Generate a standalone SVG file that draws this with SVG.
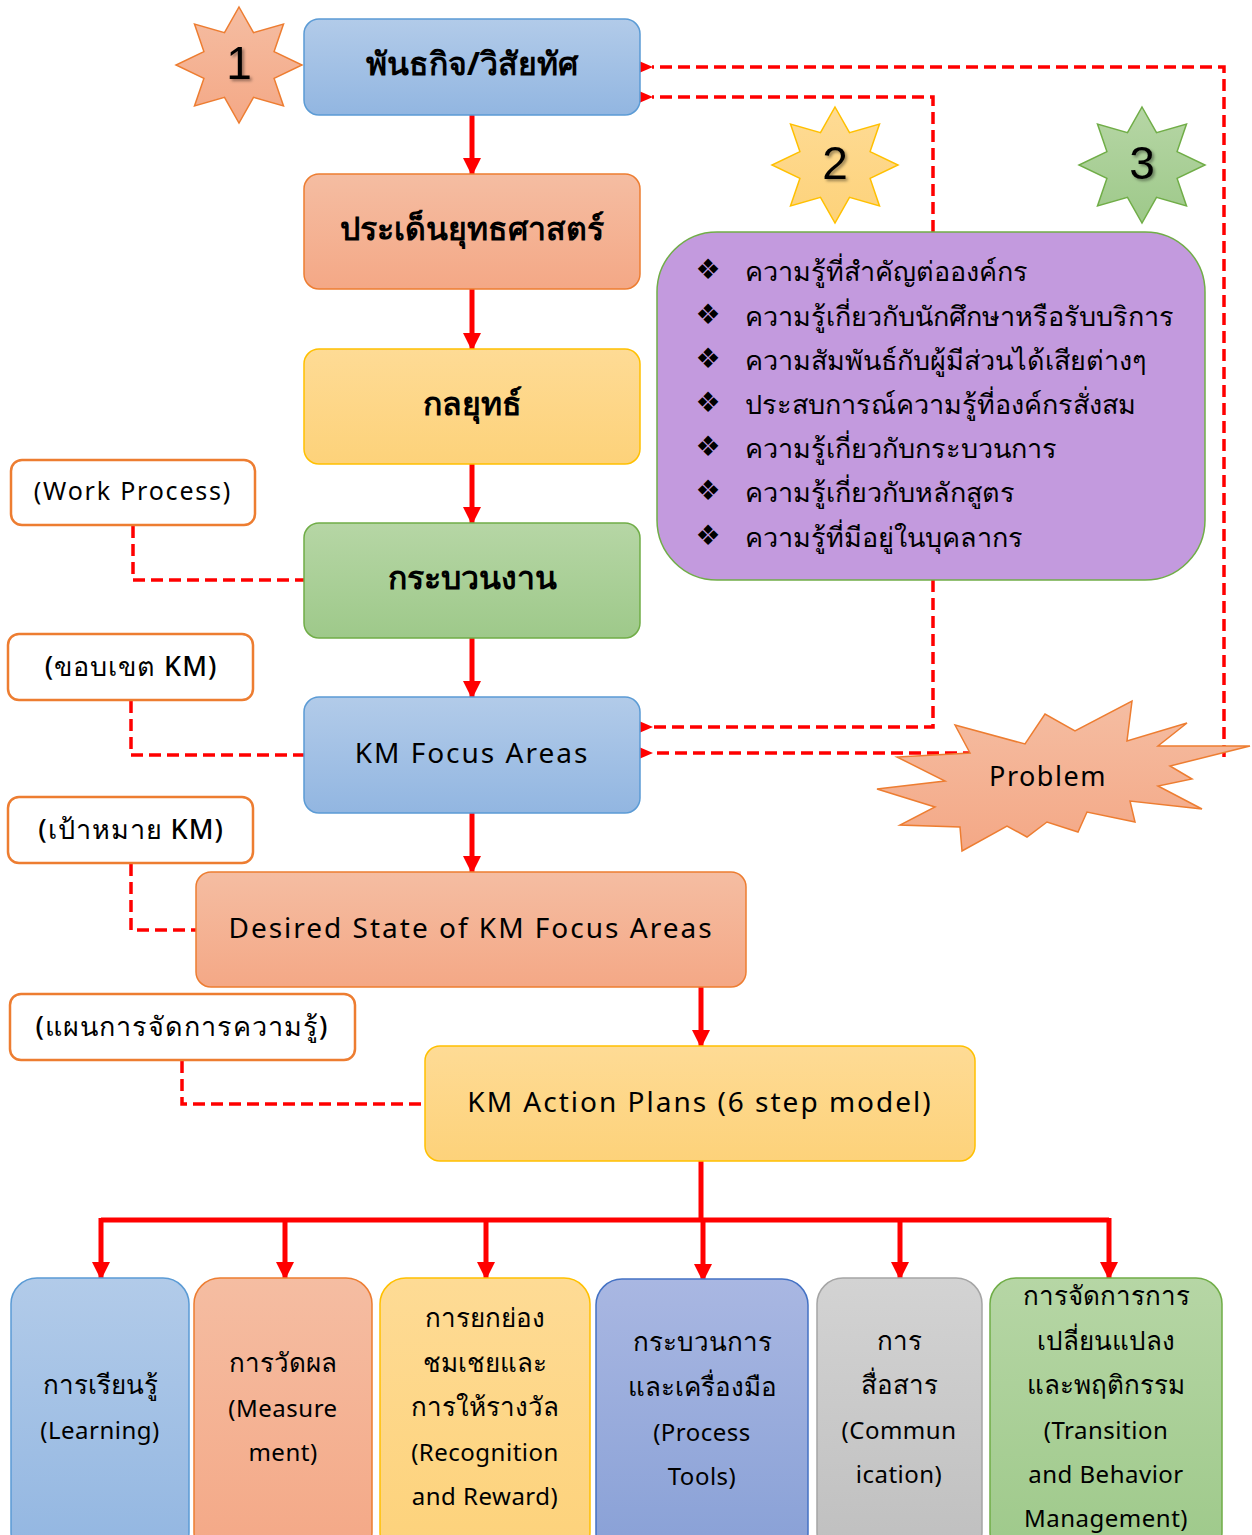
<svg xmlns="http://www.w3.org/2000/svg" width="1252" height="1535" viewBox="0 0 1252 1535">
<style>
text{font-family:"Noto Sans","DejaVu Sans",sans-serif;fill:#000;text-anchor:middle}
.h{font-size:32px;font-weight:bold}
.e{font-size:28px;letter-spacing:2px}
.s{font-size:25px;letter-spacing:1.8px}
.st{font-size:27px;letter-spacing:1px;font-weight:500}
.b{font-size:24px;letter-spacing:0.5px}
.bt{font-size:26px;font-weight:500}
.p{font-size:27px;text-anchor:start;font-weight:500}
.blt{font-size:28px;text-anchor:middle}
.num{font-family:"Liberation Sans",Arial,sans-serif;font-size:46px}
.lab{fill:#fff;stroke:#ed7d31;stroke-width:2.5}
.solid{stroke:#ff0000;stroke-width:5;fill:none}
.dash{stroke:#ff0000;stroke-width:3.5;fill:none;stroke-dasharray:12 6}
</style>
<defs>
<linearGradient id="gBlue" x1="0" y1="0" x2="0" y2="1"><stop offset="0" stop-color="#b2cbe9"/><stop offset="1" stop-color="#92b6e1"/></linearGradient>
<linearGradient id="gOrange" x1="0" y1="0" x2="0" y2="1"><stop offset="0" stop-color="#f5bda2"/><stop offset="1" stop-color="#f4a886"/></linearGradient>
<linearGradient id="gYellow" x1="0" y1="0" x2="0" y2="1"><stop offset="0" stop-color="#fedb95"/><stop offset="1" stop-color="#fdd27a"/></linearGradient>
<linearGradient id="gGreen" x1="0" y1="0" x2="0" y2="1"><stop offset="0" stop-color="#b6d6a5"/><stop offset="1" stop-color="#9ec98a"/></linearGradient>
<linearGradient id="gIndigo" x1="0" y1="0" x2="0" y2="1"><stop offset="0" stop-color="#a9b7e2"/><stop offset="1" stop-color="#88a0d6"/></linearGradient>
<linearGradient id="gGray" x1="0" y1="0" x2="0" y2="1"><stop offset="0" stop-color="#d3d3d3"/><stop offset="1" stop-color="#bfbfbf"/></linearGradient>
<polygon id="star" points="0,-58 14.5,-32.3 44.5,-41 35.1,-13.4 63,0 35.1,13.4 44.5,41 14.5,32.3 0,58 -14.5,32.3 -44.5,41 -35.1,13.4 -63,0 -35.1,-13.4 -44.5,-41 -14.5,-32.3"/>
<marker id="ah" markerUnits="userSpaceOnUse" markerWidth="18" markerHeight="18" viewBox="0 0 18 18" refX="16" refY="9" orient="auto"><path d="M0,0 L18,9 L0,18 z" fill="#ff0000"/></marker>
<marker id="ad" markerUnits="userSpaceOnUse" markerWidth="14" markerHeight="12" viewBox="0 0 14 12" refX="1" refY="6" orient="auto"><path d="M14,0 L0,6 L14,12 z" fill="#ff0000"/></marker>
<filter id="sh" x="-20%" y="-20%" width="140%" height="140%"><feDropShadow dx="2" dy="2" stdDeviation="1.5" flood-color="#000" flood-opacity="0.4"/></filter>
</defs>

<g id="connectors">
<line class="solid" x1="472" y1="115" x2="472" y2="174" marker-end="url(#ah)"/>
<line class="solid" x1="472" y1="289" x2="472" y2="349" marker-end="url(#ah)"/>
<line class="solid" x1="472" y1="464" x2="472" y2="523" marker-end="url(#ah)"/>
<line class="solid" x1="472" y1="638" x2="472" y2="697" marker-end="url(#ah)"/>
<line class="solid" x1="472" y1="813" x2="472" y2="872" marker-end="url(#ah)"/>
<line class="solid" x1="701" y1="987" x2="701" y2="1046" marker-end="url(#ah)"/>
<line class="solid" x1="701" y1="1161" x2="701" y2="1220"/>
<line class="solid" x1="101" y1="1220" x2="1109" y2="1220"/>
<line class="solid" x1="101" y1="1218" x2="101" y2="1278" marker-end="url(#ah)"/>
<line class="solid" x1="285" y1="1218" x2="285" y2="1278" marker-end="url(#ah)"/>
<line class="solid" x1="486" y1="1218" x2="486" y2="1278" marker-end="url(#ah)"/>
<line class="solid" x1="703" y1="1218" x2="703" y2="1280" marker-end="url(#ah)"/>
<line class="solid" x1="900" y1="1218" x2="900" y2="1278" marker-end="url(#ah)"/>
<line class="solid" x1="1109" y1="1218" x2="1109" y2="1278" marker-end="url(#ah)"/>
<polyline class="dash" points="133,526 133,580 304,580"/>
<polyline class="dash" points="131,701 131,755 304,755"/>
<polyline class="dash" points="131,864 131,930 196,930"/>
<polyline class="dash" points="182,1061 182,1104 425,1104"/>
<polyline class="dash" points="933,232 933,97 652,97" marker-end="url(#ad)"/>
<polyline class="dash" points="933,580 933,727 652,727" marker-end="url(#ad)"/>
<polyline class="dash" points="1224,757 1224,67 652,67" marker-end="url(#ad)"/>
<polyline class="dash" points="975,753 652,753" marker-end="url(#ad)"/>
</g>

<g id="star1"><use href="#star" transform="translate(239,65)" fill="url(#gOrange)" stroke="#ed7d31" stroke-width="1.5"/><text class="num" x="239" y="79" filter="url(#sh)">1</text></g>
<g id="star2"><use href="#star" transform="translate(835,165)" fill="url(#gYellow)" stroke="#ffc000" stroke-width="1.5"/><text class="num" x="835" y="179" filter="url(#sh)">2</text></g>
<g id="star3"><use href="#star" transform="translate(1142,165)" fill="url(#gGreen)" stroke="#70ad47" stroke-width="1.5"/><text class="num" x="1142" y="179" filter="url(#sh)">3</text></g>

<g id="mission"><rect x="304" y="19" width="336" height="96" rx="15" fill="url(#gBlue)" stroke="#5b9bd5" stroke-width="1.5"/><text class="h" x="472" y="75">พันธกิจ/วิสัยทัศ</text></g>
<g id="strategic-issue"><rect x="304" y="174" width="336" height="115" rx="15" fill="url(#gOrange)" stroke="#ed7d31" stroke-width="1.5"/><text class="h" x="472" y="240">ประเด็นยุทธศาสตร์</text></g>
<g id="strategy"><rect x="304" y="349" width="336" height="115" rx="15" fill="url(#gYellow)" stroke="#ffc000" stroke-width="1.5"/><text class="h" x="472" y="415">กลยุทธ์</text></g>
<g id="work-process"><rect x="304" y="523" width="336" height="115" rx="15" fill="url(#gGreen)" stroke="#70ad47" stroke-width="1.5"/><text class="h" x="472" y="589">กระบวนงาน</text></g>
<g id="km-focus"><rect x="304" y="697" width="336" height="116" rx="15" fill="url(#gBlue)" stroke="#5b9bd5" stroke-width="1.5"/><text class="e" x="472" y="763">KM Focus Areas</text></g>
<g id="desired-state"><rect x="196" y="872" width="550" height="115" rx="15" fill="url(#gOrange)" stroke="#ed7d31" stroke-width="1.5"/><text class="e" x="471" y="938">Desired State of KM Focus Areas</text></g>
<g id="action-plans"><rect x="425" y="1046" width="550" height="115" rx="15" fill="url(#gYellow)" stroke="#ffc000" stroke-width="1.5"/><text class="e" x="700" y="1112">KM Action Plans (6 step model)</text></g>

<g id="lab-work-process"><rect class="lab" x="11" y="460" width="244" height="65" rx="11"/><text class="s" x="133" y="500">(Work Process)</text></g>
<g id="lab-scope"><rect class="lab" x="8" y="634" width="245" height="66" rx="11"/><text class="st" x="131" y="676">(ขอบเขต KM)</text></g>
<g id="lab-goal"><rect class="lab" x="8" y="797" width="245" height="66" rx="11"/><text class="st" x="131" y="839">(เป้าหมาย KM)</text></g>
<g id="lab-plan"><rect class="lab" x="10" y="994" width="345" height="66" rx="11"/><text class="st" x="182" y="1036">(แผนการจัดการความรู้)</text></g>

<g id="knowledge"><rect x="657" y="232" width="548" height="348" rx="60" fill="#c39ade" stroke="#70ad47" stroke-width="1.5"/>
<text class="blt" x="708" y="279">❖</text><text class="p" x="745" y="281">ความรู้ที่สำคัญต่อองค์กร</text>
<text class="blt" x="708" y="324">❖</text><text class="p" x="745" y="326">ความรู้เกี่ยวกับนักศึกษาหรือรับบริการ</text>
<text class="blt" x="708" y="368">❖</text><text class="p" x="745" y="370">ความสัมพันธ์กับผู้มีส่วนได้เสียต่างๆ</text>
<text class="blt" x="708" y="412">❖</text><text class="p" x="745" y="414">ประสบการณ์ความรู้ที่องค์กรสั่งสม</text>
<text class="blt" x="708" y="456">❖</text><text class="p" x="745" y="458">ความรู้เกี่ยวกับกระบวนการ</text>
<text class="blt" x="708" y="500">❖</text><text class="p" x="745" y="502">ความรู้เกี่ยวกับหลักสูตร</text>
<text class="blt" x="708" y="545">❖</text><text class="p" x="745" y="547">ความรู้ที่มีอยู่ในบุคลากร</text>
</g>

<g id="problem"><polygon points="955,725 1025,744 1045,714 1075,731 1132,701 1127,741 1187,723 1158,746 1250,746 1170,766 1192,779 1158,786 1202,809 1130,801 1135,822 1087,812 1078,832 1047,822 1027,837 1007,826 962,851 960,827 900,825 935,807 877,789 945,781 897,757 970,753" fill="url(#gOrange)" stroke="#ed7d31" stroke-width="1.5"/><text class="e" x="1048" y="786" style="font-size:27px;letter-spacing:1.5px">Problem</text></g>

<g id="learning"><rect x="11" y="1278" width="178" height="280" rx="26" fill="url(#gBlue)" stroke="#5b9bd5" stroke-width="1.5"/><text class="bt" x="100" y="1394">การเรียนรู้</text><text class="b" x="100" y="1439">(Learning)</text></g>
<g id="measurement"><rect x="194" y="1278" width="178" height="280" rx="26" fill="url(#gOrange)" stroke="#ed7d31" stroke-width="1.5"/><text class="bt" x="283" y="1372">การวัดผล</text><text class="b" x="283" y="1417">(Measure</text><text class="b" x="283" y="1461">ment)</text></g>
<g id="recognition"><rect x="380" y="1278" width="210" height="280" rx="26" fill="url(#gYellow)" stroke="#ffc000" stroke-width="1.5"/><text class="bt" x="485" y="1327">การยกย่อง</text><text class="bt" x="485" y="1372">ชมเชยและ</text><text class="bt" x="485" y="1416">การให้รางวัล</text><text class="b" x="485" y="1461">(Recognition</text><text class="b" x="485" y="1505">and Reward)</text></g>
<g id="process-tools"><rect x="596" y="1279" width="212" height="280" rx="26" fill="url(#gIndigo)" stroke="#4472c4" stroke-width="1.5"/><text class="bt" x="702" y="1351">กระบวนการ</text><text class="bt" x="702" y="1396">และเครื่องมือ</text><text class="b" x="702" y="1441">(Process</text><text class="b" x="702" y="1485">Tools)</text></g>
<g id="communication"><rect x="817" y="1278" width="165" height="280" rx="26" fill="url(#gGray)" stroke="#a5a5a5" stroke-width="1.5"/><text class="bt" x="899" y="1350">การ</text><text class="bt" x="899" y="1394">สื่อสาร</text><text class="b" x="899" y="1439">(Commun</text><text class="b" x="899" y="1483">ication)</text></g>
<g id="transition"><rect x="990" y="1278" width="232" height="280" rx="26" fill="url(#gGreen)" stroke="#70ad47" stroke-width="1.5"/><text class="bt" x="1106" y="1305">การจัดการการ</text><text class="bt" x="1106" y="1350">เปลี่ยนแปลง</text><text class="bt" x="1106" y="1394">และพฤติกรรม</text><text class="b" x="1106" y="1439">(Transition</text><text class="b" x="1106" y="1483">and Behavior</text><text class="b" x="1106" y="1527">Management)</text></g>
</svg>
